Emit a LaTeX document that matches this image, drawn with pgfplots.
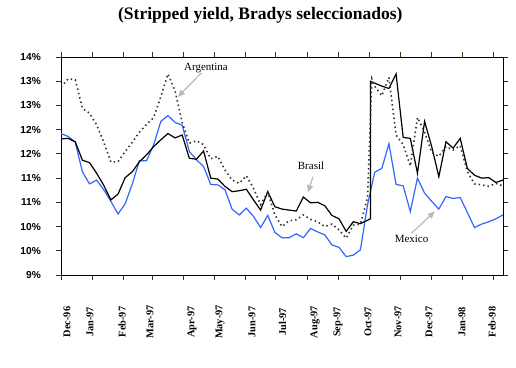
\documentclass[border=0pt]{standalone}
\usepackage{fontspec}
\setmainfont{Liberation Serif}
\newfontfamily\arialfont{Liberation Sans}
\usepackage{pgfplots}
\pgfplotsset{compat=1.18}
\usetikzlibrary{arrows.meta}
\definecolor{mexblue}{RGB}{51,102,255}
\definecolor{axcol}{RGB}{60,45,10}
\definecolor{arrgray}{RGB}{185,185,185}

\begin{document}
\begin{tikzpicture}
\useasboundingbox (-61bp,-93bp) rectangle (455bp,275bp);
\begin{axis}[
  scale only axis, width=442bp, height=218bp,
  xmin=0, xmax=62, ymin=9, ymax=13.5,
  axis line style={black, line width=0.8bp},
  ytick={9,9.5,...,13.5},
  yticklabels={9\%,10\%,10\%,11\%,11\%,12\%,12\%,13\%,13\%,14\%},
  tick align=outside, major tick length=5bp,
  tick style={axcol, line width=0.8bp},
  yticklabel style={font=\arialfont\bfseries\fontsize{10.2}{12}\selectfont, inner sep=0pt, xshift=-15bp},
  xtick={0,4.40,8.82,12.81,17.21,21.48,25.88,30.14,34.56,38.97,43.23,47.64,51.90,56.32,60.72},
  xticklabels={},
  extra x ticks={0.84,4.07,8.56,12.48,18.38,22.30,26.79,31.07,35.63,38.86,43.06,47.27,51.62,56.24,60.46},
  extra x tick labels={Dec-96,Jan-97,Feb-97,Mar-97,Apr-97,May-97,Jun-97,Jul-97,Aug-97,Sep-97,Oct-97,Nov-97,Dec-97,Jan-98,Feb-98},
  extra x tick style={major tick length=0pt},
  xticklabel style={font=\bfseries\fontsize{10.4}{12}\selectfont, inner sep=0pt, yshift=-47bp, rotate=90, anchor=center},
  title={(Stripped yield, Bradys seleccionados)},
  title style={at={(0.451,1.165)}, anchor=center, inner sep=0pt, font=\bfseries\fontsize{17.6}{20}\selectfont},
]
\addplot[mexblue, line width=1.2bp] coordinates {(0,11.92)(1,11.86)(2,11.74)(3,11.13)(4,10.88)(5,10.96)(6,10.76)(7,10.52)(8,10.26)(9,10.47)(10,10.88)(11,11.36)(12,11.36)(13,11.69)(14,12.17)(15,12.29)(16,12.15)(17,12.09)(18,11.55)(19,11.38)(20,11.24)(21,10.87)(22,10.86)(23,10.76)(24,10.36)(25,10.24)(26,10.38)(27,10.21)(28,9.98)(29,10.23)(30,9.88)(31,9.77)(32,9.77)(33,9.85)(34,9.77)(35,9.96)(36,9.89)(37,9.83)(38,9.62)(39,9.57)(40,9.38)(41,9.41)(42,9.52)(43,10.45)(44,11.12)(45,11.20)(46,11.71)(47,10.87)(48,10.84)(49,10.31)(50,11.00)(51,10.69)(52,10.52)(53,10.36)(54,10.62)(55,10.58)(56,10.60)(57,10.29)(58,9.98)(59,10.05)(60,10.10)(61,10.16)(62,10.24)};
\addplot[black, line width=1.2bp] coordinates {(0,11.81)(1,11.82)(2,11.75)(3,11.37)(4,11.32)(5,11.10)(6,10.85)(7,10.55)(8,10.67)(9,11.01)(10,11.13)(11,11.34)(12,11.48)(13,11.65)(14,11.79)(15,11.92)(16,11.83)(17,11.89)(18,11.41)(19,11.39)(20,11.56)(21,11.00)(22,10.98)(23,10.83)(24,10.72)(25,10.74)(26,10.77)(27,10.55)(28,10.34)(29,10.72)(30,10.41)(31,10.36)(32,10.34)(33,10.32)(34,10.61)(35,10.49)(36,10.50)(37,10.43)(38,10.23)(39,10.16)(40,9.90)(41,10.10)(42,10.06)(43.4,10.16)(43.4,13.00)(44,12.96)(45,12.90)(46,12.85)(47,13.15)(48,11.84)(49,11.82)(50,11.10)(51,12.17)(52,11.65)(53,11.03)(54,11.75)(55,11.62)(56,11.82)(57,11.20)(58,11.06)(59,11.00)(60,11.01)(61,10.91)(62,10.96)};
\addplot[black!80, line width=1.6bp, dash pattern=on 1.5bp off 3bp] coordinates {(0,12.88)(1,13.05)(2,13.03)(3,12.44)(4,12.34)(5,12.10)(6,11.74)(7,11.33)(8,11.34)(9,11.55)(10,11.74)(11,11.95)(12,12.11)(13,12.25)(14,12.68)(15,13.15)(16,12.80)(17,12.15)(18,11.72)(19,11.77)(20,11.69)(21,11.40)(22,11.45)(23,11.17)(24,10.96)(25,10.89)(26,11.05)(27,10.79)(28,10.45)(29,10.71)(30,10.24)(31,10.00)(32,10.12)(33,10.14)(34,10.24)(35,10.15)(36,10.10)(37,10.00)(38,10.05)(39,9.93)(40,9.76)(41,10.03)(42,10.05)(43,10.60)(43.6,13.05)(44,12.90)(45,12.70)(46,13.08)(47,11.89)(48,11.69)(49,11.25)(50,12.25)(51,11.95)(52,11.53)(53,11.45)(54,11.65)(55,11.58)(56,11.67)(57,11.13)(58,10.88)(59,10.86)(60,10.83)(61,10.89)(62,10.84)};
\node[font=\fontsize{11}{13}\selectfont, inner sep=0pt] at (axis cs:20.34,13.28) {Argentina};
\draw[arrgray, line width=1.2bp, -{Triangle[width=6bp,length=7bp]}] (axis cs:19.68,13.17) -- (axis cs:16.41,12.68);
\node[font=\fontsize{11}{13}\selectfont, inner sep=0pt] at (axis cs:35.07,11.25) {Brasil};
\draw[arrgray, line width=1.2bp, -{Triangle[width=6bp,length=7bp]}] (axis cs:35.35,11.03) -- (axis cs:34.65,10.71);
\node[font=\fontsize{11}{13}\selectfont, inner sep=0pt] at (axis cs:49.17,9.74) {Mexico};
\draw[arrgray, line width=1.2bp, -{Triangle[width=6bp,length=7bp]}] (axis cs:49.14,9.86) -- (axis cs:52.42,10.31);
\end{axis}
\end{tikzpicture}
\end{document}
